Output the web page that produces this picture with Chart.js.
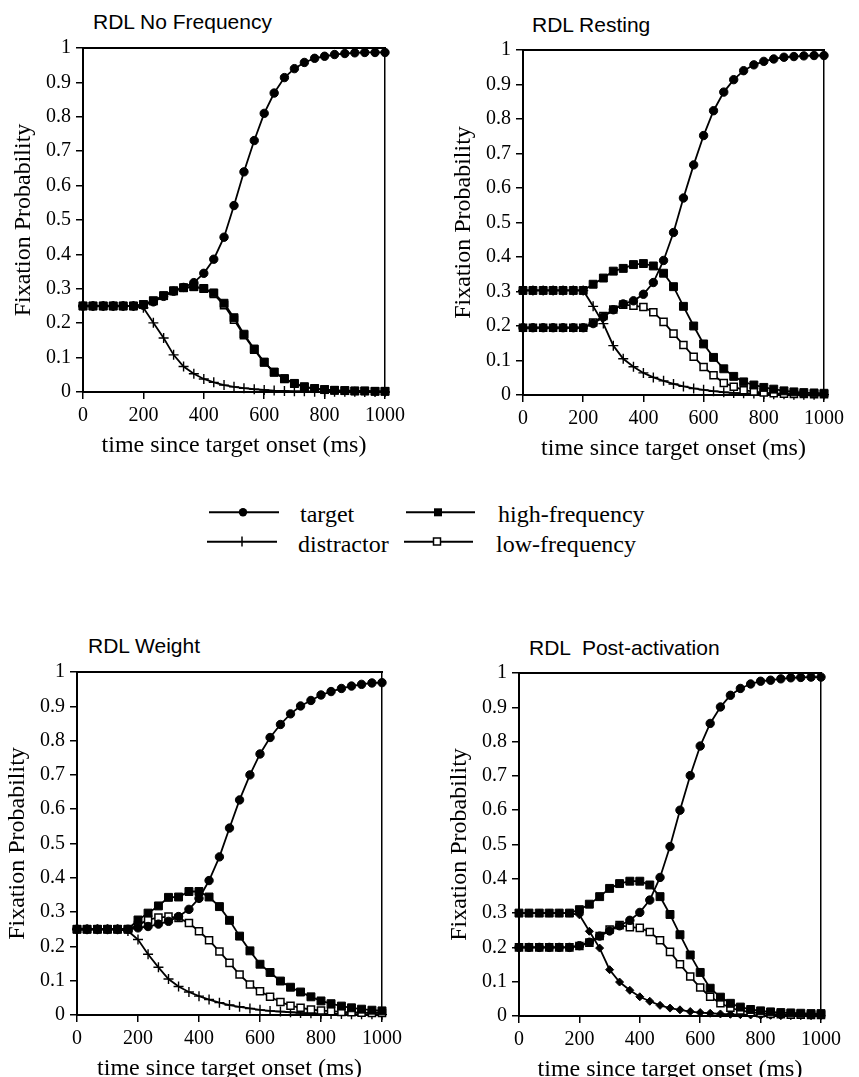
<!DOCTYPE html>
<html>
<head>
<meta charset="utf-8">
<title>RDL fixation probabilities</title>
<script src="https://cdn.jsdelivr.net/npm/chart.js@4.4.0/dist/chart.umd.min.js"></script>
<style>
  html, body { margin: 0; padding: 0; background: #fff; }
  body { width: 859px; height: 1077px; position: relative; overflow: hidden; }
  .wrap { position: absolute; }
  .ptitle { position: absolute; font-family: "Liberation Sans", Arial, sans-serif; font-size: 21px; line-height: 24px; color: #000; white-space: pre; }
  .ltext { position: absolute; font-family: "Liberation Serif", "Times New Roman", serif; font-size: 24px; line-height: 28px; color: #000; white-space: pre; }
  #legendMarks { position: absolute; left: 200px; top: 490px; }
</style>
</head>
<body>

<div class="ptitle" style="left:93px; top:10px;">RDL No Frequency</div>
<div class="ptitle" style="left:532px; top:13px;">RDL Resting</div>
<div class="ptitle" style="left:88px; top:634px;">RDL Weight</div>
<div class="ptitle" style="left:529px; top:636px;">RDL  Post-activation</div>

<div class="wrap" id="w1"><canvas id="c1"></canvas></div>
<div class="wrap" id="w2"><canvas id="c2"></canvas></div>
<div class="wrap" id="w3"><canvas id="c3"></canvas></div>
<div class="wrap" id="w4"><canvas id="c4"></canvas></div>

<svg id="legendMarks" width="300" height="70">
  <line x1="9" y1="22.3" x2="79" y2="22.3" stroke="#000" stroke-width="2"/>
  <circle cx="43" cy="22.3" r="4.2" fill="#000"/>
  <line x1="7" y1="51.7" x2="77" y2="51.7" stroke="#000" stroke-width="2"/>
  <line x1="42" y1="46.5" x2="42" y2="56.5" stroke="#000" stroke-width="1.5"/>
  <line x1="206" y1="22.3" x2="275" y2="22.3" stroke="#000" stroke-width="2"/>
  <rect x="234" y="18.3" width="8" height="8" fill="#000"/>
  <line x1="204" y1="51.7" x2="273" y2="51.7" stroke="#000" stroke-width="2"/>
  <rect x="233.5" y="48" width="7" height="7" fill="#fff" stroke="#000" stroke-width="1.5"/>
</svg>
<div class="ltext" style="left:300px; top:500px;">target</div>
<div class="ltext" style="left:298px; top:530px;">distractor</div>
<div class="ltext" style="left:498px; top:500px;">high-frequency</div>
<div class="ltext" style="left:496px; top:530px;">low-frequency</div>

<script>
// time since target onset (ms), one sample every ~33 ms
const times = [0, 33, 67, 100, 133, 167, 200, 233, 267, 300, 333, 367, 400, 433, 467, 500,
  533, 567, 600, 633, 667, 700, 733, 767, 800, 833, 867, 900, 933, 967, 1000];
const xTicks = [0, 200, 400, 600, 800, 1000];
const yTicks = [0, 0.1, 0.2, 0.3, 0.4, 0.5, 0.6, 0.7, 0.8, 0.9, 1];

// RDL No Frequency
const noFreqTarget = [0.25, 0.25, 0.25, 0.25, 0.25, 0.25, 0.252, 0.262, 0.278, 0.293, 0.304, 0.318, 0.345, 0.386, 0.45, 0.542,
  0.64, 0.731, 0.81, 0.869, 0.914, 0.94, 0.958, 0.97, 0.976, 0.981, 0.984, 0.986, 0.987, 0.987, 0.987];
const noFreqHigh = [0.25, 0.25, 0.25, 0.25, 0.25, 0.25, 0.254, 0.265, 0.28, 0.294, 0.303, 0.306, 0.301, 0.288, 0.258, 0.216,
  0.168, 0.125, 0.087, 0.058, 0.039, 0.025, 0.015, 0.01, 0.007, 0.005, 0.004, 0.003, 0.003, 0.002, 0.002];
const noFreqLow = [0.25, 0.25, 0.25, 0.25, 0.25, 0.25, 0.254, 0.265, 0.28, 0.294, 0.303, 0.306, 0.3, 0.285, 0.252, 0.21,
  0.165, 0.123, 0.086, 0.057, 0.038, 0.024, 0.015, 0.01, 0.007, 0.005, 0.004, 0.003, 0.003, 0.002, 0.002];
const noFreqDistractor = [0.25, 0.25, 0.25, 0.25, 0.25, 0.25, 0.245, 0.201, 0.157, 0.108, 0.074, 0.053, 0.038, 0.028, 0.02, 0.015,
  0.011, 0.008, 0.006, 0.004, 0.003, 0.002, 0.002, 0.001, 0.001, 0.001, 0.001, 0.001, 0, 0, 0];

// RDL Resting
const restTarget = [0.195, 0.195, 0.195, 0.195, 0.195, 0.195, 0.195, 0.207, 0.226, 0.247, 0.264, 0.273, 0.292, 0.326, 0.39, 0.471,
  0.571, 0.667, 0.752, 0.824, 0.878, 0.914, 0.94, 0.957, 0.967, 0.974, 0.979, 0.981, 0.983, 0.984, 0.984];
const restHigh = [0.303, 0.303, 0.303, 0.303, 0.303, 0.303, 0.303, 0.321, 0.339, 0.359, 0.367, 0.378, 0.381, 0.374, 0.353, 0.314,
  0.257, 0.2, 0.148, 0.109, 0.076, 0.054, 0.038, 0.029, 0.022, 0.017, 0.012, 0.009, 0.007, 0.006, 0.005];
const restLow = [0.195, 0.195, 0.195, 0.195, 0.195, 0.195, 0.195, 0.21, 0.229, 0.248, 0.262, 0.259, 0.255, 0.24, 0.212, 0.178,
  0.145, 0.111, 0.081, 0.057, 0.035, 0.024, 0.014, 0.01, 0.007, 0.005, 0.004, 0.003, 0.003, 0.002, 0.002];
const restDistractor = [0.303, 0.303, 0.303, 0.303, 0.303, 0.303, 0.303, 0.257, 0.207, 0.143, 0.105, 0.082, 0.064, 0.051, 0.041, 0.032,
  0.025, 0.019, 0.015, 0.011, 0.008, 0.006, 0.005, 0.004, 0.003, 0.002, 0.002, 0.001, 0.001, 0.001, 0.001];

// RDL Weight
const weightTarget = [0.25, 0.25, 0.25, 0.25, 0.25, 0.25, 0.254, 0.258, 0.265, 0.273, 0.287, 0.308, 0.34, 0.392, 0.461, 0.545,
  0.627, 0.7, 0.761, 0.809, 0.847, 0.878, 0.901, 0.917, 0.933, 0.943, 0.952, 0.959, 0.964, 0.968, 0.969];
const weightHigh = [0.25, 0.25, 0.25, 0.25, 0.25, 0.25, 0.277, 0.297, 0.318, 0.343, 0.344, 0.36, 0.36, 0.344, 0.316, 0.276,
  0.23, 0.187, 0.148, 0.124, 0.099, 0.081, 0.067, 0.053, 0.041, 0.033, 0.026, 0.021, 0.017, 0.014, 0.012];
const weightLow = [0.25, 0.25, 0.25, 0.25, 0.25, 0.25, 0.262, 0.278, 0.284, 0.287, 0.283, 0.268, 0.244, 0.218, 0.185, 0.152,
  0.118, 0.089, 0.069, 0.053, 0.038, 0.027, 0.021, 0.016, 0.013, 0.011, 0.009, 0.008, 0.007, 0.006, 0.006];
const weightDistractor = [0.25, 0.25, 0.25, 0.25, 0.25, 0.245, 0.22, 0.177, 0.139, 0.105, 0.083, 0.067, 0.055, 0.045, 0.036, 0.029,
  0.024, 0.019, 0.015, 0.012, 0.01, 0.008, 0.006, 0.005, 0.004, 0.003, 0.003, 0.002, 0.002, 0.002, 0.001];

// RDL Post-activation
const postTarget = [0.2, 0.2, 0.2, 0.2, 0.2, 0.2, 0.205, 0.215, 0.233, 0.248, 0.263, 0.279, 0.302, 0.338, 0.404, 0.494,
  0.6, 0.701, 0.787, 0.853, 0.901, 0.935, 0.955, 0.968, 0.976, 0.979, 0.983, 0.986, 0.987, 0.988, 0.988];
const postHigh = [0.3, 0.3, 0.3, 0.3, 0.3, 0.3, 0.31, 0.326, 0.348, 0.372, 0.386, 0.393, 0.393, 0.382, 0.348, 0.296,
  0.237, 0.178, 0.127, 0.081, 0.055, 0.037, 0.026, 0.019, 0.015, 0.012, 0.01, 0.009, 0.008, 0.007, 0.007];
const postLow = [0.2, 0.2, 0.2, 0.2, 0.2, 0.2, 0.204, 0.214, 0.233, 0.252, 0.265, 0.259, 0.257, 0.245, 0.221, 0.187,
  0.151, 0.115, 0.083, 0.056, 0.037, 0.024, 0.016, 0.011, 0.008, 0.006, 0.005, 0.004, 0.004, 0.003, 0.003];
const postDistractor = [0.3, 0.3, 0.3, 0.3, 0.3, 0.3, 0.295, 0.247, 0.198, 0.135, 0.099, 0.075, 0.056, 0.043, 0.031, 0.023,
  0.018, 0.013, 0.01, 0.008, 0.006, 0.005, 0.004, 0.003, 0.002, 0.002, 0.001, 0.001, 0.001, 0.001, 0.001];

const serif = '"Liberation Serif", "Times New Roman", serif';
const yAxisWidth = 76;
const xAxisHeight = 70;
const padTop = 12;
const padRight = 12;

function pts(values) {
  return values.map((v, i) => ({ x: times[i], y: v }));
}

function makePanel(id, box, target, high, low, distractor, distractorStyle) {
  const wrap = document.getElementById('w' + id);
  const canvas = document.getElementById('c' + id);
  const w = box.right - box.left + yAxisWidth + padRight;
  const h = box.bottom - box.top + padTop + xAxisHeight;
  wrap.style.left = (box.left - yAxisWidth) + 'px';
  wrap.style.top = (box.top - padTop) + 'px';
  canvas.width = w;
  canvas.height = h;
  canvas.style.width = w + 'px';
  canvas.style.height = h + 'px';

  const line = { borderColor: '#000', borderWidth: 1.8, tension: 0, clip: false, fill: false };

  const distractorSet = distractorStyle === 'dot'
    ? { pointStyle: 'rectRot', pointRadius: 4, pointBackgroundColor: '#000', pointBorderColor: '#000', pointBorderWidth: 1 }
    : { pointStyle: 'cross', pointRadius: 5, pointBackgroundColor: '#000', pointBorderColor: '#000', pointBorderWidth: 1.4 };

  new Chart(canvas, {
    type: 'line',
    data: {
      datasets: [
        Object.assign({ label: 'target', data: pts(target), pointStyle: 'circle', pointRadius: 4.2,
          pointBackgroundColor: '#000', pointBorderColor: '#000', pointBorderWidth: 1 }, line),
        Object.assign({ label: 'high-frequency', data: pts(high), pointStyle: 'rect', pointRadius: 5.6,
          pointBackgroundColor: '#000', pointBorderColor: '#000', pointBorderWidth: 1 }, line),
        Object.assign({ label: 'low-frequency', data: pts(low), pointStyle: 'rect', pointRadius: 5,
          pointBackgroundColor: '#fff', pointBorderColor: '#000', pointBorderWidth: 1.5 }, line),
        Object.assign({ label: 'distractor', data: pts(distractor) }, distractorSet, line)
      ]
    },
    options: {
      responsive: false,
      animation: false,
      devicePixelRatio: 1,
      layout: { padding: { top: padTop, right: padRight, left: 0, bottom: 0 } },
      plugins: { legend: { display: false }, tooltip: { enabled: false } },
      scales: {
        x: {
          type: 'linear', position: 'bottom', min: 0, max: 1000,
          afterBuildTicks: s => { s.ticks = xTicks.map(v => ({ value: v })); },
          afterFit: s => { s.height = xAxisHeight; },
          ticks: { color: '#000', font: { family: serif, size: 20 }, padding: 5, maxRotation: 0, autoSkip: false,
            callback: v => String(v) },
          grid: { display: true, drawOnChartArea: false, drawTicks: true, tickLength: 7, color: '#000', lineWidth: 1.5 },
          border: { display: true, color: '#000', width: 2 },
          title: { display: true, text: 'time since target onset (ms)', color: '#000',
            font: { family: serif, size: 24 }, padding: { top: 0, bottom: 2 } }
        },
        y: {
          type: 'linear', position: 'left', min: 0, max: 1,
          afterBuildTicks: s => { s.ticks = yTicks.map(v => ({ value: v })); },
          afterFit: s => { s.width = yAxisWidth; },
          ticks: { color: '#000', font: { family: serif, size: 20 }, padding: 5, autoSkip: false,
            callback: v => String(Math.round(v * 10) / 10) },
          grid: { display: true, drawOnChartArea: false, drawTicks: true, tickLength: 7, color: '#000', lineWidth: 1.5 },
          border: { display: true, color: '#000', width: 2 },
          title: { display: true, text: 'Fixation Probability', color: '#000',
            font: { family: serif, size: 24 }, padding: { top: 2, bottom: 0 } }
        },
        xTop: {
          type: 'linear', position: 'top', min: 0, max: 1000,
          afterFit: s => { s.height = 0; },
          ticks: { display: false },
          grid: { display: false },
          border: { display: true, color: '#000', width: 2 }
        },
        yRight: {
          type: 'linear', position: 'right', min: 0, max: 1,
          afterFit: s => { s.width = 0; },
          ticks: { display: false },
          grid: { display: false },
          border: { display: true, color: '#000', width: 1.5 }
        }
      }
    }
  });
}

makePanel(1, { left: 83, top: 43, right: 398, bottom: 392 }, noFreqTarget, noFreqHigh, noFreqLow, noFreqDistractor, 'cross');
makePanel(2, { left: 523, top: 45, right: 837, bottom: 395 }, restTarget, restHigh, restLow, restDistractor, 'cross');
makePanel(3, { left: 77, top: 667, right: 395, bottom: 1015 }, weightTarget, weightHigh, weightLow, weightDistractor, 'cross');
makePanel(4, { left: 519, top: 668, right: 834, bottom: 1016 }, postTarget, postHigh, postLow, postDistractor, 'dot');
</script>
</body>
</html>
